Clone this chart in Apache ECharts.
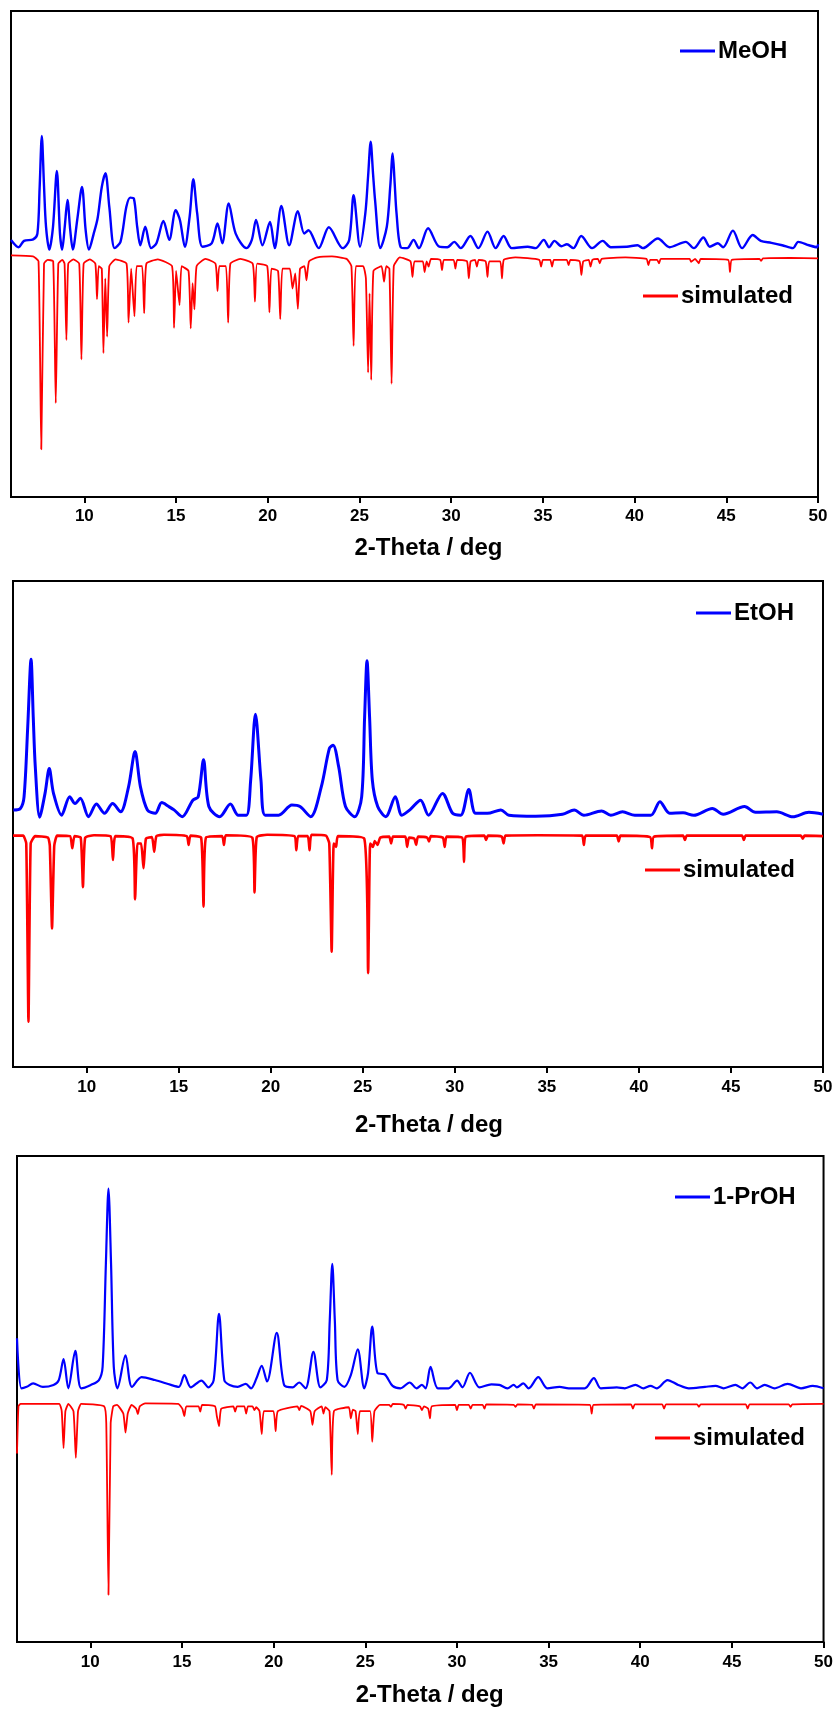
<!DOCTYPE html>
<html>
<head>
<meta charset="utf-8">
<script src="https://cdn.jsdelivr.net/npm/echarts@6/dist/echarts.min.js"></script>
<style>
html,body{margin:0;padding:0;background:#fff;}
#chart{width:836px;height:1710px;}
</style>
</head>
<body>
<div id="chart"></div>
<script>
// x tick labels (2-Theta, deg)
const xTicks = [10, 15, 20, 25, 30, 35, 40, 45, 50];
const axisTitle = '2-Theta / deg';
const panelNames = ['MeOH', 'EtOH', '1-PrOH'];
const simName = 'simulated';

// Panel 1: MeOH experimental [2theta, intensity(a.u.)]
const meohExp = [[6.0,52.9],[6.42,51.4],[6.71,52.7],[7.21,53.0],[7.44,54.2],[7.56,63.5],[7.68,74.3],[7.80,64.0],[7.91,55.6],[8.09,50.9],[8.29,55.6],[8.50,67.1],[8.67,54.2],[8.79,50.9],[8.93,55.6],[9.08,61.1],[9.23,54.9],[9.37,50.9],[9.61,57.0],[9.87,63.8],[10.07,54.9],[10.25,50.9],[10.51,54.2],[10.72,57.3],[10.95,63.8],[11.15,66.6],[11.36,59.7],[11.65,51.2],[11.97,52.5],[12.29,59.7],[12.50,61.6],[12.70,61.4],[12.88,55.6],[13.05,51.8],[13.32,55.6],[13.64,51.2],[13.93,52.2],[14.31,56.8],[14.63,52.9],[14.98,59.0],[15.21,57.0],[15.48,51.5],[15.74,57.7],[15.94,65.4],[16.15,58.4],[16.44,51.5],[16.94,52.2],[17.26,56.3],[17.52,52.2],[17.87,60.4],[18.25,54.2],[18.84,51.2],[19.13,52.9],[19.36,57.0],[19.71,51.8],[20.12,56.6],[20.38,51.2],[20.74,59.9],[21.17,51.8],[21.64,58.8],[21.99,54.2],[22.22,54.9],[22.78,51.2],[23.33,55.5],[24.09,51.2],[24.44,52.9],[24.68,62.1],[25.03,51.5],[25.32,58.4],[25.47,66.0],[25.61,73.1],[25.74,66.5],[25.85,61.1],[26.14,51.2],[26.49,55.6],[26.68,64.0],[26.81,70.7],[26.92,64.5],[27.02,58.4],[27.25,51.4],[27.60,51.2],[27.95,52.9],[28.24,51.2],[28.74,55.3],[29.35,51.5],[29.79,51.4],[30.17,52.5],[30.52,51.2],[31.05,53.7],[31.48,51.2],[31.98,54.6],[32.42,51.2],[32.86,53.7],[33.30,51.2],[34.17,51.5],[34.61,51.2],[35.05,52.9],[35.34,51.4],[35.63,52.7],[36.01,51.6],[36.31,52.0],[36.66,51.2],[37.09,53.7],[37.68,51.2],[38.26,52.7],[38.70,51.4],[39.58,51.5],[40.16,51.8],[40.45,51.2],[41.27,53.2],[41.91,51.4],[42.79,52.5],[43.23,51.2],[43.75,53.4],[44.10,51.5],[44.54,52.2],[44.83,51.4],[45.36,54.8],[45.86,51.2],[46.44,53.9],[46.88,52.7],[47.46,52.3],[48.05,51.8],[48.63,51.2],[48.92,52.5],[49.51,51.8],[49.95,51.4],[50.0,52.0]];

// Panel 1: MeOH simulated (drawn downward)
const meohSim = [[6.0,49.7],[7.2,49.5],[7.5,48.5],[7.65,9.8],[7.8,48.0],[8.0,48.8],[8.3,48.5],[8.44,19.3],[8.58,48.0],[8.8,48.8],[8.92,48.0],[9.02,32.3],[9.12,48.0],[9.4,48.9],[9.72,48.0],[9.84,28.3],[9.96,48.0],[10.3,48.9],[10.6,48.0],[10.69,40.7],[10.78,47.5],[10.95,47.0],[11.04,29.6],[11.14,45.0],[11.24,33.0],[11.36,47.5],[11.7,48.9],[12.3,48.0],[12.41,35.9],[12.55,47.0],[12.73,37.2],[12.85,47.5],[13.15,47.5],[13.26,37.8],[13.38,48.0],[14.0,48.9],[14.78,47.5],[14.89,34.8],[15.0,46.5],[15.19,39.5],[15.3,47.5],[15.68,46.5],[15.80,34.7],[15.9,44.0],[16.00,38.6],[16.12,47.5],[16.6,49.0],[17.15,48.0],[17.26,42.4],[17.36,47.5],[17.72,47.5],[17.84,35.9],[17.96,48.0],[18.5,49.0],[19.18,48.0],[19.30,40.2],[19.42,48.0],[19.97,47.5],[20.09,38.0],[20.2,47.0],[20.56,46.5],[20.68,36.6],[20.8,47.0],[21.2,47.0],[21.35,42.9],[21.5,46.0],[21.64,38.7],[21.76,47.0],[22.0,47.5],[22.11,44.6],[22.25,48.5],[22.7,49.3],[23.5,49.5],[24.3,49.0],[24.56,47.5],[24.68,31.1],[24.8,47.5],[25.2,47.5],[25.35,45.0],[25.47,25.6],[25.55,41.9],[25.64,24.1],[25.76,46.5],[26.2,47.5],[26.34,44.3],[26.46,47.5],[26.63,47.0],[26.75,23.3],[26.87,47.5],[27.2,49.3],[27.78,48.5],[27.89,45.3],[28.0,48.5],[28.45,48.5],[28.55,46.3],[28.66,48.5],[28.77,47.4],[28.9,49.0],[29.4,48.8],[29.5,46.7],[29.6,48.8],[30.13,48.8],[30.23,47.0],[30.33,48.8],[30.86,48.5],[30.96,45.0],[31.06,48.5],[31.3,48.8],[31.4,47.4],[31.5,48.8],[31.88,48.5],[31.98,45.3],[32.08,48.5],[32.67,48.5],[32.77,45.0],[32.87,48.8],[33.5,49.3],[34.8,48.8],[34.9,47.4],[35.0,48.8],[35.4,48.8],[35.5,47.4],[35.6,48.8],[36.3,48.8],[36.4,47.7],[36.5,48.8],[37.0,48.5],[37.1,45.7],[37.2,48.5],[37.5,48.8],[37.6,47.4],[37.7,48.8],[38.0,49.0],[38.1,48.1],[38.2,49.0],[39.5,49.3],[40.65,49.0],[40.75,47.7],[40.85,48.8],[41.23,48.8],[41.33,48.1],[41.43,49.0],[43.0,49.0],[43.08,48.4],[43.3,49.0],[43.5,48.1],[43.6,49.0],[45.1,48.8],[45.2,46.3],[45.3,48.8],[46.8,49.0],[46.9,48.6],[47.0,49.1],[48.5,49.2],[50.0,49.1]];

// Panel 2: EtOH experimental
const etohExp = [[6.02,52.9],[6.40,53.2],[6.60,55.6],[6.80,70.0],[6.98,83.9],[7.10,72.0],[7.21,61.8],[7.45,51.4],[7.74,56.3],[7.97,61.4],[8.20,56.3],[8.64,51.8],[9.08,55.6],[9.37,54.2],[9.66,55.3],[10.10,51.5],[10.53,54.1],[10.97,52.2],[11.41,54.2],[11.84,52.5],[12.28,57.7],[12.63,64.9],[12.92,57.7],[13.30,52.9],[13.73,52.2],[14.08,54.4],[14.46,53.6],[14.75,52.9],[15.19,51.5],[15.77,54.9],[16.06,55.6],[16.35,63.2],[16.64,53.6],[17.23,51.5],[17.81,54.1],[18.24,51.8],[18.68,51.8],[18.91,59.0],[19.17,72.6],[19.47,59.0],[19.70,51.8],[20.43,51.8],[21.15,53.9],[21.59,53.6],[22.17,51.5],[22.75,57.7],[23.19,65.6],[23.39,66.2],[23.69,61.8],[24.06,53.6],[24.56,51.5],[24.94,55.6],[25.10,72.0],[25.23,83.6],[25.37,72.0],[25.52,59.0],[25.81,53.6],[26.25,51.5],[26.77,55.6],[27.12,51.8],[27.56,52.9],[28.14,54.9],[28.57,51.8],[29.33,56.3],[29.88,52.2],[30.32,51.8],[30.76,57.1],[31.13,52.2],[31.77,52.2],[32.50,52.9],[32.94,51.8],[34.39,51.6],[35.85,52.0],[36.49,52.9],[37.01,51.8],[37.97,52.7],[38.47,51.8],[39.11,52.5],[39.78,51.8],[40.65,51.8],[41.14,54.6],[41.67,52.2],[42.40,52.3],[42.98,51.8],[43.99,53.2],[44.58,52.0],[45.74,53.6],[46.33,52.4],[47.49,52.5],[48.36,51.5],[49.23,52.4],[50.0,52.0]];

// Panel 2: EtOH simulated
const etohSim = [[6.0,47.6],[6.55,47.6],[6.72,46.0],[6.84,9.3],[6.96,46.0],[7.2,47.5],[7.9,47.2],[8.0,45.5],[8.12,28.5],[8.24,45.5],[8.4,47.6],[9.1,47.5],[9.22,45.0],[9.34,47.5],[9.68,47.2],[9.80,37.0],[9.92,47.2],[10.4,47.7],[11.3,47.5],[11.43,42.6],[11.56,47.5],[12.5,47.0],[12.63,34.5],[12.76,46.0],[12.96,46.0],[13.09,40.9],[13.22,47.0],[13.55,47.3],[13.67,44.3],[13.79,47.5],[14.2,47.8],[15.44,47.5],[15.54,45.7],[15.64,47.6],[16.22,47.2],[16.35,33.0],[16.48,47.2],[17.36,47.5],[17.46,45.7],[17.56,47.7],[19.0,47.2],[19.12,35.9],[19.24,47.3],[19.8,47.8],[21.29,47.5],[21.39,44.6],[21.49,47.5],[22.01,47.5],[22.11,44.6],[22.21,47.8],[23.0,47.6],[23.18,46.0],[23.31,23.7],[23.42,46.0],[23.55,45.3],[23.65,47.5],[25.08,47.0],[25.29,19.3],[25.4,46.0],[25.55,45.3],[25.65,46.5],[25.8,45.7],[25.95,47.2],[26.44,47.4],[26.54,46.0],[26.64,47.4],[27.31,47.4],[27.41,45.3],[27.51,47.2],[27.8,47.0],[27.9,45.7],[28.0,47.4],[28.5,47.2],[28.6,46.4],[28.7,47.5],[29.35,47.2],[29.45,45.3],[29.55,47.4],[30.4,47.2],[30.5,42.2],[30.6,47.4],[31.6,47.6],[31.7,46.7],[31.8,47.6],[32.55,47.4],[32.65,46.0],[32.75,47.6],[34.5,47.7],[36.91,47.6],[37.01,45.7],[37.11,47.6],[38.8,47.6],[38.9,46.4],[39.0,47.6],[40.61,47.3],[40.71,45.0],[40.81,47.4],[42.4,47.6],[42.5,46.7],[42.6,47.6],[45.6,47.6],[45.7,46.7],[45.8,47.6],[48.8,47.6],[48.9,47.0],[49.0,47.6],[50.0,47.5]];

// Panel 3: 1-PrOH experimental
const prohExp = [[6.0,62.5],[6.24,52.2],[6.53,52.5],[6.88,53.2],[7.41,52.5],[7.99,52.9],[8.28,53.9],[8.54,58.2],[8.80,52.2],[9.18,59.9],[9.50,52.2],[10.03,52.9],[10.47,53.9],[10.67,56.6],[10.85,78.0],[10.99,93.3],[11.13,78.0],[11.28,56.6],[11.48,52.2],[11.92,59.0],[12.27,52.5],[12.80,54.5],[13.52,53.9],[14.40,52.9],[14.83,52.5],[15.13,54.9],[15.48,52.4],[16.06,53.8],[16.44,52.4],[16.73,53.9],[17.02,67.5],[17.31,53.9],[17.60,52.9],[18.04,52.5],[18.48,53.1],[18.77,52.2],[19.06,54.2],[19.35,56.8],[19.64,53.6],[20.17,63.6],[20.57,52.9],[21.04,52.4],[21.39,53.4],[21.74,52.2],[22.17,59.7],[22.55,52.4],[22.90,53.9],[23.06,66.0],[23.20,77.8],[23.34,66.0],[23.49,53.9],[23.86,52.5],[24.21,54.9],[24.59,60.2],[24.94,52.2],[25.15,55.3],[25.38,64.9],[25.67,55.3],[26.05,55.1],[26.49,52.7],[26.92,52.2],[27.42,53.4],[27.80,52.2],[28.09,52.9],[28.29,52.2],[28.56,56.6],[28.96,52.2],[29.54,52.2],[30.01,53.8],[30.30,52.4],[30.71,55.4],[31.23,52.4],[31.88,53.0],[32.31,52.9],[32.75,52.2],[33.10,52.9],[33.27,52.4],[33.62,53.2],[33.91,52.2],[34.44,54.5],[34.93,52.2],[35.60,52.5],[36.10,52.2],[36.97,52.2],[37.47,54.3],[37.85,52.2],[38.72,52.4],[39.16,52.2],[39.74,52.9],[40.18,52.2],[40.56,52.7],[40.90,52.2],[41.49,53.9],[42.07,52.9],[42.65,52.2],[43.53,52.5],[44.11,52.7],[44.55,52.2],[45.19,52.9],[45.57,52.2],[46.00,53.4],[46.38,52.2],[46.79,52.9],[47.31,52.2],[48.04,53.1],[48.77,52.2],[49.41,52.7],[50.0,52.2]];

// Panel 3: 1-PrOH simulated
const prohSim = [[6.0,38.8],[6.08,48.5],[6.2,49.0],[8.3,49.0],[8.44,47.5],[8.54,39.9],[8.64,47.5],[8.8,49.0],[9.08,47.5],[9.21,37.9],[9.33,47.5],[9.5,49.0],[10.75,48.5],[10.87,45.0],[10.99,9.7],[11.11,45.0],[11.25,48.5],[11.45,48.8],[11.8,47.0],[11.92,43.1],[12.04,47.0],[12.25,48.8],[12.5,48.0],[12.59,46.9],[12.7,48.5],[13.0,49.1],[14.8,49.0],[15.02,48.0],[15.13,46.5],[15.24,48.5],[15.9,48.5],[16.0,47.4],[16.1,48.8],[16.8,48.5],[16.9,46.5],[17.02,44.4],[17.14,48.0],[17.8,48.5],[17.9,47.4],[18.0,48.5],[18.4,48.5],[18.5,47.0],[18.6,48.5],[18.85,48.5],[18.95,47.7],[19.05,48.3],[19.23,47.5],[19.35,42.8],[19.47,47.5],[19.99,47.5],[20.11,43.4],[20.23,47.5],[21.3,48.5],[21.4,47.7],[21.5,48.6],[22.0,47.5],[22.12,44.7],[22.24,47.5],[22.62,48.5],[22.72,47.0],[22.82,48.3],[23.05,47.5],[23.17,34.4],[23.29,47.5],[24.1,48.3],[24.21,46.0],[24.32,47.8],[24.47,47.5],[24.59,42.8],[24.71,47.5],[25.26,47.5],[25.38,41.2],[25.5,47.5],[25.8,48.8],[26.3,48.8],[26.4,48.4],[26.5,49.0],[27.1,48.8],[27.2,48.0],[27.3,48.8],[27.98,48.5],[28.09,47.7],[28.2,48.5],[28.43,48.0],[28.53,46.0],[28.63,48.5],[29.9,48.8],[30.0,47.7],[30.1,48.8],[30.65,48.8],[30.75,48.0],[30.85,48.8],[31.4,48.8],[31.5,48.0],[31.6,48.9],[33.1,48.8],[33.2,48.4],[33.3,48.9],[34.1,48.8],[34.2,48.0],[34.3,48.9],[37.25,48.8],[37.35,47.0],[37.45,48.8],[39.5,48.9],[39.6,48.0],[39.7,48.9],[41.2,48.9],[41.3,48.0],[41.4,48.9],[43.1,48.9],[43.2,48.4],[43.3,48.9],[45.76,48.9],[45.86,48.0],[45.96,48.9],[48.1,48.9],[48.2,48.4],[48.3,48.9],[50.0,49.0]];

const FONT = "'Liberation Sans', Arial, Helvetica, sans-serif";
const BLUE = '#0000ff';
const RED = '#ff0000';

const panels = [
  {grid:{left:11, top:11, width:807, height:486}, exp:meohExp, sim:meohSim, name:panelNames[0],
   nameGap:51, namePadLeft:28, labelMargin:11, expW:2.4, simW:1.8,
   leg1:{left:680, top:39}, leg2:{left:643, top:284}},
  {grid:{left:13, top:581, width:810, height:486}, exp:etohExp, sim:etohSim, name:panelNames[1],
   nameGap:58, namePadLeft:22, labelMargin:12, expW:3, simW:2.6,
   leg1:{left:696, top:601}, leg2:{left:645, top:858}},
  {grid:{left:17, top:1156, width:809, height:486}, exp:prohExp, sim:prohSim, name:panelNames[2],
   nameGap:53, namePadLeft:19, labelMargin:12, expW:2.2, simW:1.8,
   leg1:{left:675, top:1185}, leg2:{left:655, top:1426}}
];

const option = {
  animation: false,
  backgroundColor: '#fff',
  grid: panels.map(p => Object.assign({show:true, borderColor:'#000', borderWidth:2, backgroundColor:'transparent'}, p.grid)),
  xAxis: panels.map((p, i) => ({
    type: 'value', gridIndex: i, min: 6, max: 50,
    name: axisTitle, nameLocation: 'middle', nameGap: p.nameGap,
    nameTextStyle: {fontFamily: FONT, fontWeight: 'bold', fontSize: 24, color: '#000',
                    verticalAlign: 'middle', padding: [0, 0, 0, p.namePadLeft]},
    axisLine: {show: true, onZero: false, lineStyle: {color: '#000', width: 2}},
    axisTick: {show: true, inside: false, length: 6, lineStyle: {color: '#000', width: 2}, customValues: xTicks},
    axisLabel: {show: true, margin: p.labelMargin, fontFamily: FONT, fontWeight: 'bold', fontSize: 17, color: '#000', customValues: xTicks},
    splitLine: {show: false}
  })),
  yAxis: panels.map((p, i) => ({
    type: 'value', gridIndex: i, min: 0, max: 100, show: false, splitLine: {show: false}
  })),
  legend: panels.flatMap((p, i) => ([
    {data: [p.name], left: p.leg1.left, top: p.leg1.top, orient: 'horizontal', padding: 0,
     icon: 'rect', itemWidth: 35, itemHeight: 3, itemGap: 5, selectedMode: false,
     textStyle: {fontFamily: FONT, fontWeight: 'bold', fontSize: 24, color: '#000', padding: [0,0,0,-2]}},
    {data: [simName], left: p.leg2.left, top: p.leg2.top, orient: 'horizontal', padding: 0,
     icon: 'rect', itemWidth: 35, itemHeight: 3, itemGap: 5, selectedMode: false,
     textStyle: {fontFamily: FONT, fontWeight: 'bold', fontSize: 24, color: '#000', padding: [0,0,0,-2]}}
  ])),
  series: panels.flatMap((p, i) => ([
    {type: 'line', name: p.name, xAxisIndex: i, yAxisIndex: i, data: p.exp,
     showSymbol: false, symbol: 'none', clip: true, smooth: 0.3,
     lineStyle: {color: BLUE, width: p.expW}, itemStyle: {color: BLUE}, z: 3},
    {type: 'line', name: simName, xAxisIndex: i, yAxisIndex: i, data: p.sim,
     showSymbol: false, symbol: 'none', clip: true, smooth: 0.15,
     lineStyle: {color: RED, width: p.simW}, itemStyle: {color: RED}, z: 2}
  ]))
};

const chart = echarts.init(document.getElementById('chart'), null, {renderer: 'canvas', width: 836, height: 1710});
chart.setOption(option);
</script>
</body>
</html>
